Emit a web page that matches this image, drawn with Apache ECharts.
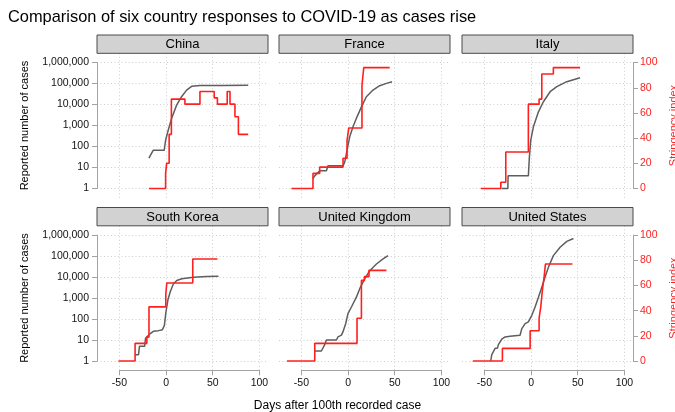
<!DOCTYPE html>
<html><head><meta charset="utf-8">
<script src="https://cdn.jsdelivr.net/npm/echarts@6/dist/echarts.min.js"></script>
<style>html,body{margin:0;padding:0;background:#fff}#c{width:675px;height:412px}</style>
</head><body><div id="c"></div>
<script>
// ---------- data ----------
const countries = ['China', 'France', 'Italy', 'South Korea', 'United Kingdom', 'United States'];
const xTicks = [-50, 0, 50, 100];
const caseTicks = [1, 10, 100, 1000, 10000, 100000, 1000000];
const stringencyTicks = [0, 20, 40, 60, 80, 100];

// [days after 100th case, reported cases]
const chinaCases = [[-18.4,28],[-16.5,40],[-13.8,66],[-2,66],[-0.5,200],[2.3,600],[5.9,2150],[11.3,9400],[16.6,23600],[22,49000],[27.4,74000],[36.3,80000],[60,82000],[88,84000]];
const franceCases = [[-37.6,3],[-35.7,4],[-30.4,7],[-23.2,7],[-21.5,12],[-5.4,12],[-3.6,18],[-1.1,66],[1.75,290],[5.3,870],[9.6,2600],[14.3,7800],[19.6,23600],[26.7,49000],[33.9,79000],[41.1,102000],[47.1,123000]];
const italyCases = [[-31.4,1],[-24.9,1],[-24.6,4],[-2.9,4],[-1.8,32],[-0.3,200],[2.5,870],[7.9,4500],[13.2,13600],[20.4,41000],[27.6,71000],[38.3,123000],[52.5,190000]];
const koreaCases = [[-33.2,2],[-29.5,2],[-28.5,5],[-23,5],[-22,12],[-20,15],[-17,20],[-13.6,26],[-8.2,28],[-3.9,31],[-1.8,50],[-0.3,190],[1.9,780],[4.3,1900],[7.9,4800],[11.5,6900],[16.9,8300],[29.3,9800],[43.6,10700],[56.1,11000]];
const ukCases = [[-35.7,3],[-28.6,3],[-25,6],[-23.2,10],[-12.5,10],[-10.8,14],[-7.1,17],[-5.4,25],[-2.5,61],[-0.1,180],[3.6,375],[8.9,1100],[12.5,2800],[17.8,8200],[23.2,20000],[30.4,42000],[37.5,73000],[42.8,105000]];
const usCases = [[-43.2,1],[-42.1,2],[-40.4,2],[-38.5,4],[-36.1,4],[-35,6],[-33.2,7],[-31.4,11],[-27.8,14],[-22.5,15],[-11.8,17],[-9.9,35],[-6.4,60],[-2.9,73],[0.8,150],[4.3,375],[7.9,1100],[11.5,3300],[15,10000],[18.6,29500],[23.9,105000],[31.1,263000],[38.3,500000],[45.4,690000]];

// [days after 100th case, stringency index] (stepped)
const chinaStringency = [[-18.4,0],[-0.5,12],[0.6,20],[3.3,43],[5.7,71],[20.2,67],[36.3,77],[51.6,72],[55,67],[65.5,77],[68.5,67],[73.8,57],[77.5,43],[88,43]];
const franceStringency = [[-60.7,0],[-37.6,12],[-30.4,17],[-5.4,24],[-1.1,38],[0.7,48],[14.9,82],[16.8,96],[44.6,96]];
const italyStringency = [[-53.9,0],[-32.4,5],[-27.1,29],[-2.9,67],[8.6,71],[11.5,91],[23.9,96],[52.5,96]];
const koreaStringency = [[-51,0],[-33.2,14],[-20.6,19],[-18.3,43],[-0.3,53],[0.8,62],[28.6,81],[55,81]];
const ukStringency = [[-65.4,0],[-35.7,14],[9.6,34],[14.3,64],[17.5,67],[22.4,72],[41.1,72]];
const usStringency = [[-62.4,0],[-30.7,10],[-1,24],[8.6,34],[10.4,43],[12.1,56],[14,67],[15.4,77],[44.3,77]];

const casesByCountry = [chinaCases, franceCases, italyCases, koreaCases, ukCases, usCases];
const stringencyByCountry = [chinaStringency, franceStringency, italyStringency, koreaStringency, ukStringency, usStringency];

// ---------- layout ----------
const FONT = '"Liberation Sans", Arial, Helvetica, sans-serif';
const COL_LEFT = [97, 279, 462];
const STRIP_TOP = [35, 207.5];
const PANEL_W = 171, STRIP_H = 18.3, PLOT_H = 144.5, PAD_V = 9.3;
const X_OFF = 22.4, X_W = 140;
const xFirst = xTicks[0], xLast = xTicks[xTicks.length - 1];
const pxPerDay = X_W / (xLast - xFirst);
const xMin = xFirst - X_OFF / pxPerDay;
const xMax = xMin + PANEL_W / pxPerDay;

const AXIS_GRAY = '#a3a3a3';
const RED = '#ff1f1f';
const GREY_LINE = '#5e5e5e';
const gridLine = { show: true, lineStyle: { color: '#cdcdcd', width: 1, type: [1, 2.5] } };
const commas = v => String(Math.round(v)).replace(/\B(?=(\d{3})+(?!\d))/g, ',');

const grids = [], xAxes = [], yAxes = [], series = [], graphics = [];

countries.forEach((name, i) => {
  const r = Math.floor(i / 3), c = i % 3;
  const L = COL_LEFT[c];
  const plotTop = STRIP_TOP[r] + STRIP_H;
  grids.push({ left: L, top: plotTop + PAD_V, width: PANEL_W, height: PLOT_H - 2 * PAD_V });
  grids.push({ left: L + X_OFF, top: plotTop, width: X_W, height: PLOT_H });

  xAxes.push({ gridIndex: 2 * i, type: 'value', min: xMin, max: xMax, show: false });
  xAxes.push({
    gridIndex: 2 * i + 1, type: 'value', min: xFirst, max: xLast, interval: xTicks[1] - xTicks[0], position: 'bottom',
    axisLine: { show: r === 1, onZero: false, lineStyle: { color: AXIS_GRAY, width: 1 } },
    axisTick: { show: r === 1, length: 5, lineStyle: { color: AXIS_GRAY } },
    axisLabel: { show: r === 1, margin: 7, color: '#111', fontSize: 10.5, fontFamily: FONT },
    splitLine: gridLine
  });

  yAxes.push({
    gridIndex: 2 * i, type: 'log', logBase: 10, min: caseTicks[0], max: caseTicks[caseTicks.length - 1], splitNumber: 6, position: 'left',
    axisLine: { show: c === 0, onZero: false, lineStyle: { color: AXIS_GRAY, width: 1 } },
    axisTick: { show: c === 0, length: 5, lineStyle: { color: AXIS_GRAY } },
    axisLabel: { show: c === 0, margin: 8, color: '#111', fontSize: 10.5, fontFamily: FONT, formatter: commas },
    minorTick: { show: false }, minorSplitLine: { show: false },
    splitLine: gridLine
  });
  yAxes.push({
    gridIndex: 2 * i, type: 'value', min: stringencyTicks[0], max: stringencyTicks[stringencyTicks.length - 1],
    interval: stringencyTicks[1] - stringencyTicks[0], position: 'right',
    axisLine: { show: c === 2, onZero: false, lineStyle: { color: AXIS_GRAY, width: 1 } },
    axisTick: { show: c === 2, length: 5, lineStyle: { color: AXIS_GRAY } },
    axisLabel: { show: c === 2, margin: 7, color: RED, fontSize: 10.5, fontFamily: FONT },
    splitLine: { show: false }
  });
  yAxes.push({ gridIndex: 2 * i + 1, type: 'value', min: 0, max: 1, show: false });

  series.push({
    type: 'line', name: name + ' cases', xAxisIndex: 2 * i, yAxisIndex: 3 * i,
    data: casesByCountry[i], showSymbol: false, symbol: 'none', clip: false, silent: true,
    lineStyle: { color: GREY_LINE, width: 1.5 }, z: 3
  });
  series.push({
    type: 'line', name: name + ' stringency', step: 'end', xAxisIndex: 2 * i, yAxisIndex: 3 * i + 1,
    data: stringencyByCountry[i], showSymbol: false, symbol: 'none', clip: false, silent: true,
    lineStyle: { color: RED, width: 1.6 }, z: 4
  });

  graphics.push({
    type: 'rect', shape: { x: L, y: STRIP_TOP[r], width: PANEL_W, height: STRIP_H },
    style: { fill: '#d2d2d2', stroke: '#4a4a4a', lineWidth: 1 }, z: 10
  });
  graphics.push({
    type: 'text', x: L + PANEL_W / 2, y: STRIP_TOP[r] + STRIP_H / 2 + 0.5,
    style: { text: name, fontSize: 13, fontFamily: FONT, fill: '#000',
      align: 'center', verticalAlign: 'middle', textAlign: 'center', textVerticalAlign: 'middle' }, z: 11
  });

  if (c === 0) {
    graphics.push({
      type: 'text', x: 24.5, y: plotTop + PLOT_H / 2, rotation: Math.PI / 2,
      style: { text: 'Reported number of cases', fontSize: 11, fontFamily: FONT, fill: '#000',
        align: 'center', verticalAlign: 'middle', textAlign: 'center', textVerticalAlign: 'middle' }, z: 11
    });
  }
  if (c === 2) {
    graphics.push({
      type: 'text', x: 673.5, y: plotTop + PLOT_H / 2, rotation: Math.PI / 2,
      style: { text: 'Stringency index', fontSize: 11, fontFamily: FONT, fill: RED,
        align: 'center', verticalAlign: 'middle', textAlign: 'center', textVerticalAlign: 'middle' }, z: 11
    });
  }
});

graphics.push({
  type: 'text', x: 8, y: 17.5,
  style: { text: 'Comparison of six country responses to COVID-19 as cases rise', fontSize: 16.4, fontFamily: FONT, fill: '#000',
    align: 'left', verticalAlign: 'middle', textAlign: 'left', textVerticalAlign: 'middle' }, z: 11
});
graphics.push({
  type: 'text', x: 337.5, y: 406,
  style: { text: 'Days after 100th recorded case', fontSize: 12, fontFamily: FONT, fill: '#000',
    align: 'center', verticalAlign: 'middle', textAlign: 'center', textVerticalAlign: 'middle' }, z: 11
});

const chart = echarts.init(document.getElementById('c'), null, { renderer: 'canvas' });
chart.setOption({
  animation: false,
  backgroundColor: '#fff',
  grid: grids,
  xAxis: xAxes,
  yAxis: yAxes,
  series: series,
  graphic: graphics
});
</script>
</body></html>
